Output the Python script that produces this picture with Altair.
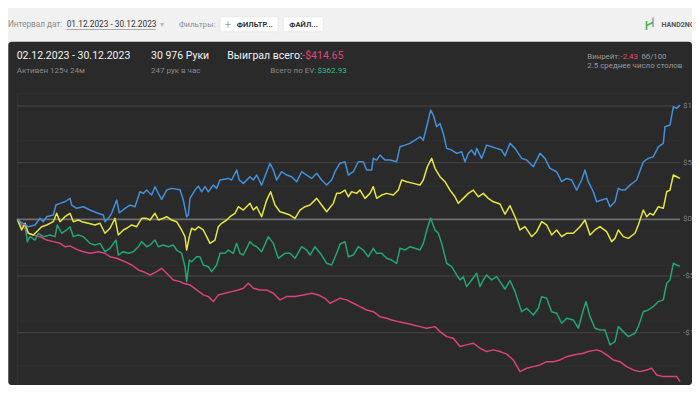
import altair as alt
import pandas as pd

# ---------------- data (hands played -> cumulative $) ----------------
blue_hands = [0,126,516,828,1061,1217,1373,1684,1809,1996,2230,2463,2541,2775,3087,3398,3710,4021,4099,4255,4411,4645,4769,5034,5268,5501,5735,5891,6047,6281,6436,6592,6748,6982,7215,7605,7760,7916,7994,8072,8306,8461,8617,8773,8929,9162,9318,9474,9864,10019,10253,10378,10565,10876,11032,11188,11422,11656,11811,11967,12123,12356,12590,12824,13058,13291,13525,13759,13992,14226,14460,14693,14849,15083,15317,15473,15706,15940,16174,16329,16563,16641,16797,16953,17186,17420,17732,17887,18121,18355,18589,18822,18978,19134,19321,19445,19601,19757,19913,20069,20302,20536,20770,20926,21081,21237,21393,21471,21705,21938,22172,22406,22640,22795,23029,23263,23575,23808,24120,24432,24665,24899,25211,25444,25678,25912,26145,26379,26535,26691,26924,27080,27314,27548,27703,27937,28093,28249,28405,28638,28950,29261,29495,29728,29962,30196,30274,30508,30664,30820,30976]
blue_vals = [0,-21,-65,-50,9,-21,23,38,126,141,155,185,126,97,111,82,58,38,-21,9,53,170,58,97,126,111,243,229,258,214,288,229,176,258,273,261,170,23,38,185,258,293,243,288,243,302,273,347,361,347,435,347,317,376,347,391,302,420,494,435,347,420,391,376,332,420,391,361,406,347,302,347,420,495,508,391,420,508,508,435,435,538,523,567,523,523,508,640,655,670,699,728,699,817,964,920,817,846,758,626,611,582,596,508,582,611,567,626,538,655,640,626,611,560,670,626,538,523,464,582,538,450,420,332,361,347,258,347,435,332,243,155,170,185,111,155,273,258,258,302,347,508,538,552,640,670,817,832,993,979,1008]

yellow_hands = [0,204,360,516,750,905,1139,1373,1684,1840,1996,2230,2463,2619,2853,3009,3320,3632,3866,4099,4333,4567,4723,4956,5112,5346,5579,5813,6047,6203,6436,6592,6826,6982,7215,7449,7682,7838,7916,8041,8150,8306,8461,8695,8851,9007,9240,9396,9552,9786,9941,10175,10331,10565,10876,11032,11188,11422,11656,11842,12045,12278,12512,12746,12980,13213,13447,13681,13992,14226,14460,14771,14927,15083,15317,15473,15628,15862,16018,16252,16485,16641,16797,17031,17264,17576,17810,17965,18199,18511,18822,18978,19165,19368,19524,19757,19991,20225,20458,20614,20848,21081,21315,21549,21783,22016,22250,22562,22795,23029,23263,23497,23731,24042,24276,24510,24743,24977,25211,25444,25678,25990,26301,26535,26769,27002,27236,27548,27781,27937,28093,28327,28560,28872,29028,29261,29417,29573,29728,29962,30196,30352,30508,30664,30820,30976]
yellow_vals = [0,-94,-35,-123,-138,-109,-65,-50,-21,53,-21,23,53,-21,-6,-21,-35,-50,-35,-123,-79,9,-138,-94,-79,-50,-65,9,9,-6,53,-6,9,23,-6,-21,-94,-153,-271,-153,-79,-94,-65,-94,-153,-212,-183,-65,-35,-6,23,53,111,82,141,82,111,23,170,243,126,67,53,38,9,82,111,126,185,126,67,141,229,229,258,199,243,229,258,185,229,288,185,214,229,214,258,347,332,317,302,347,464,538,450,376,332,258,199,141,185,229,258,199,229,185,155,135,45,120,23,-94,-65,-153,-109,-21,-50,-138,-94,-153,-123,-123,-65,-6,-138,-94,-65,-109,-197,-168,-94,-153,-168,-123,-50,82,23,53,38,111,97,243,258,391,376,361]

green_hands = [0,204,360,469,594,828,983,1217,1528,1762,1871,2074,2308,2463,2619,2853,3087,3398,3632,3866,4099,4333,4613,4723,4956,5190,5424,5657,5813,6047,6203,6436,6592,6826,7059,7293,7449,7682,7838,7916,8041,8150,8383,8539,8695,8929,9085,9318,9474,9708,9864,10097,10253,10409,10565,10876,11032,11188,11422,11734,11967,12201,12512,12746,12980,13291,13525,13681,13914,14226,14460,14693,14927,15083,15317,15473,15706,15940,16174,16407,16641,16797,17031,17264,17498,17732,17887,18121,18355,18589,18822,18978,19165,19321,19524,19679,19835,20069,20302,20536,20692,20848,21003,21237,21471,21627,21783,21938,22172,22406,22562,22795,23029,23263,23575,23808,24120,24354,24510,24743,24977,25211,25444,25678,25990,26223,26457,26582,26769,27002,27236,27470,27703,27937,28093,28327,28560,28872,29028,29261,29495,29728,29962,30196,30352,30508,30664,30820,30976]
green_vals = [0,-79,-50,-197,-153,-183,-123,-153,-138,-153,-50,-123,-94,-65,-153,-138,-153,-212,-227,-212,-286,-256,-183,-315,-286,-300,-286,-242,-197,-242,-227,-183,-242,-227,-242,-227,-271,-300,-418,-550,-359,-374,-330,-330,-403,-418,-462,-403,-300,-300,-271,-300,-212,-300,-315,-197,-227,-242,-286,-153,-212,-344,-300,-300,-344,-242,-271,-315,-242,-315,-388,-403,-300,-220,-197,-330,-315,-242,-271,-330,-256,-300,-300,-344,-359,-388,-256,-271,-242,-256,-271,-212,-79,9,-94,-123,-212,-388,-418,-491,-535,-506,-594,-535,-476,-594,-535,-491,-535,-506,-550,-615,-540,-638,-815,-785,-844,-785,-682,-697,-815,-829,-917,-873,-888,-961,-800,-726,-859,-961,-976,-976,-1108,-1079,-947,-991,-1035,-1005,-947,-815,-800,-771,-726,-711,-564,-535,-388,-403,-415]

pink_hands = [0,282,516,750,1061,1373,1684,1996,2230,2463,2775,3087,3398,3788,4099,4333,4645,5034,5346,5657,5891,6203,6514,6748,6982,7293,7605,7760,8072,8383,8695,8929,9162,9396,9708,10019,10331,10565,10798,11032,11344,11656,11967,12278,12590,12980,13369,13759,14071,14382,14616,14927,15083,15395,15706,16018,16329,16641,16953,17264,17498,17810,18199,18511,18822,19134,19524,19757,20069,20380,20692,21003,21315,21627,21938,22250,22562,22874,23185,23497,23808,24120,24432,24743,25055,25366,25678,25990,26457,26691,27080,27314,27548,27859,28171,28482,28794,29106,29417,29651,29884,30196,30508,30820,30976]
pink_vals = [0,-65,-123,-138,-153,-183,-197,-212,-242,-235,-265,-286,-300,-286,-300,-330,-344,-374,-403,-447,-462,-491,-462,-432,-476,-535,-550,-564,-579,-623,-667,-682,-726,-667,-652,-638,-623,-608,-564,-608,-623,-623,-652,-711,-682,-682,-667,-652,-667,-697,-741,-711,-697,-711,-741,-771,-800,-815,-859,-873,-888,-903,-917,-932,-947,-961,-947,-991,-1035,-1049,-1123,-1108,-1093,-1138,-1167,-1152,-1167,-1190,-1241,-1344,-1314,-1300,-1285,-1256,-1256,-1241,-1212,-1197,-1182,-1167,-1152,-1167,-1197,-1241,-1256,-1300,-1329,-1344,-1329,-1314,-1373,-1388,-1388,-1388,-1432]

grid_values = [1000, 500, 0, -500, -1000, -1500]
grid_labels = ["$1,000", "$500", "$0", "-$500", "-$1,000", "-$1,500"]
minor_grid = [1111, 693, 294, -103, -406, -899, -1294]

series_colors = {"blue": "#4390da", "yellow": "#e6e63e", "green": "#22a672", "pink": "#d9427b"}

FONT = "Roboto"
W, H = 684, 377

xs = alt.Scale(domain=[0, 30976], range=[9.3, 672], nice=False, zero=False)
ys = alt.Scale(domain=[1000, -1500], range=[98, 381.3], nice=False, zero=False)

one = pd.DataFrame({"a": [0]})


def rect(x, x2, y, y2, color, **kw):
    return alt.Chart(one).mark_rect(color=color, **kw).encode(
        x=alt.value(x), x2=alt.value(x2), y=alt.value(y), y2=alt.value(y2))


def rule(x, x2, y, y2, color, width=1, **kw):
    return alt.Chart(one).mark_rule(color=color, strokeWidth=width, **kw).encode(
        x=alt.value(x), x2=alt.value(x2), y=alt.value(y), y2=alt.value(y2))


def label(t, x, y, size, color, align="left", weight="normal"):
    return alt.Chart(one).mark_text(
        text=t, align=align, baseline="alphabetic", fontSize=size, color=color,
        font=FONT, fontWeight=weight).encode(x=alt.value(x), y=alt.value(y))


layers = []

# ---- toolbar ----
layers += [
    label("Интервал дат:", 0, 19, 8.2, "#8c8c8c"),
    label("01.12.2023 - 30.12.2023", 58.7, 19, 8.3, "#333333"),
    rule(58.7, 147.7, 21.5, 21.5, "#9a9a9a", 0.8),
    label("▾", 152, 19, 7.5, "#b5b5b5"),
    label("Фильтры:", 171, 19, 8.1, "#8c8c8c"),
    rect(212, 270, 8.7, 23.7, "#ffffff", stroke="#e2e2e2", strokeWidth=0.6, cornerRadius=2),
    label("+", 217, 19.5, 10.5, "#a8a8a8"),
    label("ФИЛЬТР...", 228.7, 19, 7.6, "#333333", weight="bold"),
    rect(275.3, 315.3, 8.7, 23.7, "#ffffff", stroke="#e2e2e2", strokeWidth=0.6, cornerRadius=2),
    label("ФАЙЛ...", 281.3, 19, 7.6, "#333333", weight="bold"),
    # logo
    rule(638.5, 638.5, 13, 22, "#4caf50", 1.6),
    rule(645, 645, 9.5, 19, "#9e9e9e", 1.6),
    rule(638.5, 645, 17.5, 14.5, "#4caf50", 1.6),
    label("HAND2NOTE", 653.5, 19, 7, "#555555", weight="bold"),
]

# ---- dark panel ----
layers += [
    rect(0.3, W, 33.7, H, "#2a2a2a", cornerRadius=3),
    label("02.12.2023 - 30.12.2023", 8.7, 51.3, 10.5, "#f2f2f2"),
    label("Активен 125ч 24м", 8.7, 64.7, 8, "#8a8a8a"),
    label("30 976 Руки", 143, 51.3, 10.5, "#f2f2f2"),
    label("247 рук в час", 143, 64.7, 8, "#8a8a8a"),
    label("Выиграл всего:", 219.3, 51.3, 10.5, "#f2f2f2"),
    label("-$414.65", 294.3, 51.3, 10.5, "#e0457e"),
    label("Всего по EV:", 308.3, 64.7, 8, "#8a8a8a", align="right"),
    label("$362.93", 338.7, 64.7, 8, "#2fbf86", align="right"),
    label("Винрейт:", 579.3, 51, 7.8, "#9a9a9a"),
    label("-2.43", 612.5, 51, 7.8, "#e0457e"),
    label("бб/100", 633.5, 51, 7.8, "#9a9a9a"),
    label("2.5 среднее число столов", 579.3, 60.3, 7.9, "#9a9a9a"),
    rule(9.3, 9.3, 85, H, "#343434", 1),
]

# ---- grid ----
minor_df = pd.DataFrame({"g": minor_grid})
major_df = pd.DataFrame({"g": grid_values, "t": grid_labels})
layers += [
    alt.Chart(minor_df).mark_rule(color="#313131", strokeWidth=1).encode(
        y=alt.Y("g:Q", scale=ys, axis=None), x=alt.value(9.3), x2=alt.value(672)),
    alt.Chart(major_df[major_df.g != 0]).mark_rule(color="#3f3f3f", strokeWidth=1.3).encode(
        y=alt.Y("g:Q", scale=ys, axis=None), x=alt.value(9.3), x2=alt.value(672)),
    alt.Chart(major_df[major_df.g == 0]).mark_rule(color="#6f6f6f", strokeWidth=1.8).encode(
        y=alt.Y("g:Q", scale=ys, axis=None), x=alt.value(9.3), x2=alt.value(672)),
    alt.Chart(major_df).mark_text(align="left", baseline="middle", fontSize=8,
                                  color="#7d7d7d", font=FONT).encode(
        y=alt.Y("g:Q", scale=ys, axis=None), x=alt.value(675), text="t:N"),
]

# ---- series lines ----
for name, hands, vals in [("pink", pink_hands, pink_vals),
                          ("green", green_hands, green_vals),
                          ("yellow", yellow_hands, yellow_vals),
                          ("blue", blue_hands, blue_vals)]:
    df = pd.DataFrame({"hand": hands, "v": vals})
    layers.append(
        alt.Chart(df).mark_line(color=series_colors[name], strokeWidth=1.5,
                                strokeJoin="round", interpolate="linear").encode(
            x=alt.X("hand:Q", scale=xs, axis=None),
            y=alt.Y("v:Q", scale=ys, axis=None)))

chart = alt.layer(*layers).properties(
    width=W, height=H, autosize="none", padding=0, background="#f1f1f1"
).configure_view(stroke=None)

chart.save("out.html", embed_options={"renderer": "svg", "actions": False})
